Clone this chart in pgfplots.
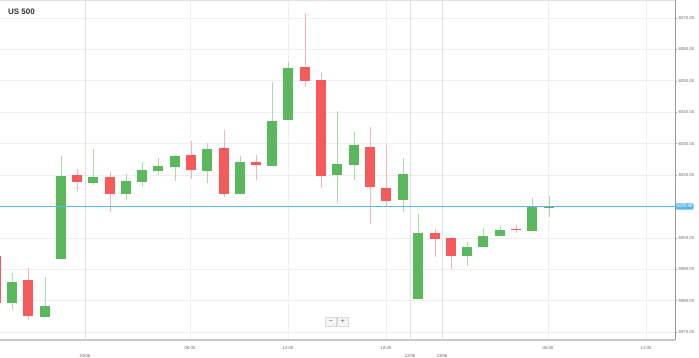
\documentclass[border=0pt]{standalone}
\usepackage{pgfplots}
\pgfplotsset{compat=1.18}
\usepackage{fontspec}
\setmainfont{Liberation Sans}
\definecolor{gfill}{HTML}{5CB85C}
\definecolor{gstroke}{HTML}{8ED48E}
\definecolor{gwick}{HTML}{A9DCA9}
\definecolor{rfill}{HTML}{F55B5B}
\definecolor{rstroke}{HTML}{F88A8A}
\definecolor{rwick}{HTML}{F9B5B5}
\definecolor{pricecol}{HTML}{5BB6EA}
\definecolor{gridc}{HTML}{EFEFEF}
\definecolor{daygrid}{HTML}{E2E2E2}
\definecolor{labc}{HTML}{666666}
% #1 x, #2 open, #3 high, #4 low, #5 close
\newcommand{\gc}[5]{%
  \addplot[draw=gwick, line width=0.9bp, forget plot] coordinates {(#1,#4) (#1,#3)};
  \addplot[draw=gstroke, line width=10.6bp, forget plot] coordinates {(#1,#2) (#1,#5)};
  \addplot[draw=gfill, line width=9.4bp, forget plot] coordinates {(#1,#2) (#1,#5)};}
\newcommand{\rc}[5]{%
  \addplot[draw=rwick, line width=0.9bp, forget plot] coordinates {(#1,#4) (#1,#3)};
  \addplot[draw=rstroke, line width=10.6bp, forget plot] coordinates {(#1,#2) (#1,#5)};
  \addplot[draw=rfill, line width=9.4bp, forget plot] coordinates {(#1,#2) (#1,#5)};}
\newcommand{\tinyf}{\fontsize{4.3}{5}\selectfont}
\begin{document}
\begin{tikzpicture}
\useasboundingbox (0,0) rectangle (699bp,358bp);
\begin{axis}[
  at={(0,18bp)}, anchor=south west,
  scale only axis, width=675bp, height=340bp,
  xmin=0, xmax=675, ymin=5967.5, ymax=6075.7,
  clip mode=individual,
  axis x line*=bottom, axis y line*=right,
  x axis line style={draw=black!22, line width=1.2bp, -},
  y axis line style={draw=black!40, line width=0.7bp, -},
  ytick={5970,5980,5990,6000,6020,6030,6040,6050,6060,6070},
  ymajorgrids, xmajorgrids,
  major grid style={draw=gridc, line width=0.7bp},
  tick align=outside,
  major tick length=2bp,
  ytick style={draw=black!35, line width=0.5bp},
  yticklabel style={font=\tinyf, text=labc, anchor=west, inner sep=0pt, xshift=1.5bp,
    /pgf/number format/.cd, fixed, fixed zerofill, precision=2, 1000 sep={}, assume math mode=true},
  xtick={190,288,386,548,646},
  xticklabels={06:00,12:00,18:00,06:00,12:00},
  xtick style={draw=none},
  xticklabel style={font=\tinyf, text=labc, anchor=north, inner sep=0pt, yshift=-4bp},
  extra x ticks={85,410,442},
  extra x tick labels={20/06,22/06,23/06},
  extra x tick style={
    major grid style={draw=daygrid, line width=0.8bp},
    tick style={draw=black!45, densely dotted, line width=0.5bp, /pgfplots/major tick length=8bp},
    xticklabel style={yshift=-8bp}},
]
\rc{-4}{5994.2}{5995.5}{5978.0}{5979.2}
\gc{12}{5979.2}{5988.8}{5977.0}{5985.9}
\rc{28}{5986.6}{5990.4}{5973.8}{5975.1}
\gc{45}{5974.8}{5987.5}{5974.8}{5978.3}
\gc{61}{5993.2}{6026.1}{5993.2}{6019.7}
\rc{77}{6020.0}{6021.9}{6014.9}{6017.8}
\gc{93}{6017.5}{6028.3}{6016.8}{6019.4}
\rc{110}{6019.4}{6021.3}{6008.2}{6013.9}
\gc{126}{6013.9}{6020.3}{6012.0}{6018.1}
\gc{142}{6017.8}{6024.1}{6016.2}{6021.6}
\gc{158}{6021.3}{6025.4}{6020.0}{6022.9}
\gc{175}{6022.5}{6026.4}{6018.1}{6026.1}
\rc{191}{6026.4}{6030.8}{6018.7}{6021.6}
\gc{207}{6021.3}{6030.2}{6017.5}{6028.3}
\rc{224}{6028.6}{6034.3}{6013.0}{6013.9}
\gc{240}{6013.9}{6026.1}{6013.9}{6024.1}
\rc{256}{6024.1}{6026.4}{6018.4}{6023.2}
\gc{272}{6022.9}{6049.6}{6022.9}{6037.2}
\gc{288}{6037.5}{6056.0}{6037.5}{6054.1}
\rc{305}{6054.4}{6071.6}{6048.0}{6049.9}
\rc{321}{6050.3}{6052.5}{6015.9}{6019.7}
\gc{337}{6020.0}{6040.4}{6011.1}{6023.5}
\gc{354}{6023.2}{6033.7}{6018.4}{6029.6}
\rc{370}{6028.9}{6035.3}{6004.4}{6016.2}
\rc{386}{6015.9}{6029.6}{6009.8}{6011.7}
\gc{403}{6012.0}{6025.4}{6008.2}{6020.3}
\gc{418}{5980.5}{6007.6}{5980.5}{6001.5}
\rc{435}{6001.5}{6002.8}{5993.9}{5999.6}
\rc{451}{5999.9}{6000.2}{5989.7}{5994.2}
\gc{467}{5994.2}{5998.7}{5991.0}{5997.1}
\gc{483}{5997.1}{6003.1}{5997.0}{6000.6}
\gc{500}{6000.6}{6004.1}{6000.6}{6002.5}
\rc{516}{6002.8}{6004.1}{6001.5}{6002.5}
\gc{532}{6002.2}{6012.7}{6002.2}{6009.8}
\gc{549}{6009.5}{6013.3}{6006.6}{6010.1}
\addplot[draw=pricecol, line width=0.6bp] coordinates {(0,6009.98) (675,6009.98)};
\draw[draw=black!12, line width=0.7bp] (rel axis cs:0,1) -- (rel axis cs:1,1);
\node[fill=pricecol, rounded corners=1bp, text=white, font=\tinyf, inner xsep=1.2bp, inner ysep=1.6bp, anchor=west] at (axis cs:675.5,6009.98) {6009.98};
\node[draw=black!15, fill=black!4, minimum width=11bp, minimum height=9bp, inner sep=0pt, font=\fontsize{7}{7}\selectfont, text=black!70] at (axis cs:331,5973.3) {−};
\node[draw=black!15, fill=black!4, minimum width=11bp, minimum height=9bp, inner sep=0pt, font=\fontsize{7}{7}\selectfont, text=black!70] at (axis cs:343,5973.3) {+};
\end{axis}
\node[anchor=west, fill=white, inner sep=2bp, font=\bfseries\fontsize{8}{9}\selectfont, text=black!80] at (6bp,346bp) {US 500};
\end{tikzpicture}
\end{document}
